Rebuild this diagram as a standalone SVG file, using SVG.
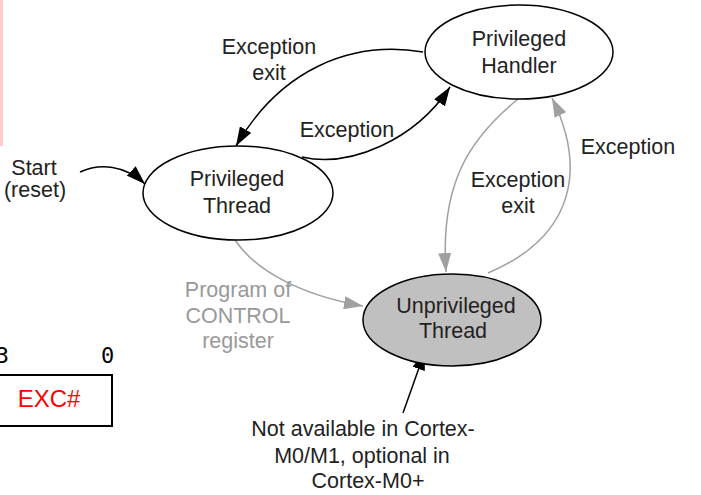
<svg xmlns="http://www.w3.org/2000/svg" width="701" height="495" viewBox="0 0 701 495">
<style>
.t{font-family:"Liberation Sans",Arial,sans-serif;font-size:21.5px;fill:#222;text-anchor:middle}
.g{fill:#999}
.n{fill:#fff;stroke:#000;stroke-width:1.5}
.u{fill:#c0c0c0;stroke:#000;stroke-width:1.5}
.eb{fill:none;stroke:#000;stroke-width:1.5}
.eg{fill:none;stroke:#a0a0a0;stroke-width:1.5}
.mono{font-family:"DejaVu Sans Mono",monospace;font-size:22px;fill:#000}
</style>
<defs>
<marker id="ab" markerUnits="userSpaceOnUse" markerWidth="20" markerHeight="13" refX="19" refY="6.5" orient="auto" viewBox="0 0 20 13">
<path d="M0,0 L19,6.5 L0,13 z" fill="#000"/>
</marker>
<marker id="ag" markerUnits="userSpaceOnUse" markerWidth="20" markerHeight="13" refX="19" refY="6.5" orient="auto" viewBox="0 0 20 13">
<path d="M0,0 L19,6.5 L0,13 z" fill="#a0a0a0"/>
</marker>
</defs>
<rect width="701" height="495" fill="#fff"/>
<rect x="0" y="0" width="3" height="146" fill="#ffcccc"/>
<g id="register">
<text class="mono" x="9" y="363" text-anchor="end">3</text>
<text class="mono" x="101" y="363">0</text>
<rect x="-2" y="375" width="114" height="51" fill="#fff" stroke="#000" stroke-width="2"/>
<text x="49" y="407" style="font-family:'Liberation Sans',Arial,sans-serif;font-size:24px;fill:#ff0000;text-anchor:middle">EXC#</text>
</g>
<g id="connectors">
<path class="eb" d="M423,52 C350,40 280,70 236,146" marker-end="url(#ab)"/>
<path class="eb" d="M302,157 C350,168 415,140 450,87" marker-end="url(#ab)"/>
<path class="eg" d="M518,99 C468,140 440,185 446,272" marker-end="url(#ag)"/>
<path class="eg" d="M488,273 C578,235 585,165 552,98" marker-end="url(#ag)"/>
<path class="eg" d="M235,240 C255,270 300,295 363,306" marker-end="url(#ag)"/>
<path class="eb" d="M80,172 C100,163 125,165 145,184" marker-end="url(#ab)"/>
<path class="eb" d="M403,413 L425,351" marker-end="url(#ab)"/>
<text class="t" x="269" y="54">Exception</text>
<text class="t" x="269" y="80">exit</text>
<text class="t" x="347" y="137">Exception</text>
<text class="t" x="628" y="154">Exception</text>
<text class="t" x="518" y="187">Exception</text>
<text class="t" x="518" y="213">exit</text>
<text class="t g" x="238" y="297">Program of</text>
<text class="t g" x="238" y="323">CONTROL</text>
<text class="t g" x="238" y="348">register</text>
</g>
<g id="start">
<text class="t" x="34" y="175">Start</text>
<text class="t" x="35" y="197">(reset)</text>
</g>
<g id="handler">
<ellipse class="n" cx="519" cy="52" rx="94" ry="47"/>
<text class="t" x="519" y="46">Privileged</text>
<text class="t" x="519" y="73">Handler</text>
</g>
<g id="pthread">
<ellipse class="n" cx="238" cy="193" rx="95" ry="47"/>
<text class="t" x="237" y="186">Privileged</text>
<text class="t" x="237" y="213">Thread</text>
</g>
<g id="uthread">
<ellipse class="u" cx="452" cy="320" rx="89" ry="46"/>
<text class="t" x="456" y="313">Unprivileged</text>
<text class="t" x="453" y="338">Thread</text>
</g>
<g id="note">
<text class="t" x="363" y="436">Not available in Cortex-</text>
<text class="t" x="362" y="463">M0/M1, optional in</text>
<text class="t" x="368" y="488">Cortex-M0+</text>
</g>
</svg>
